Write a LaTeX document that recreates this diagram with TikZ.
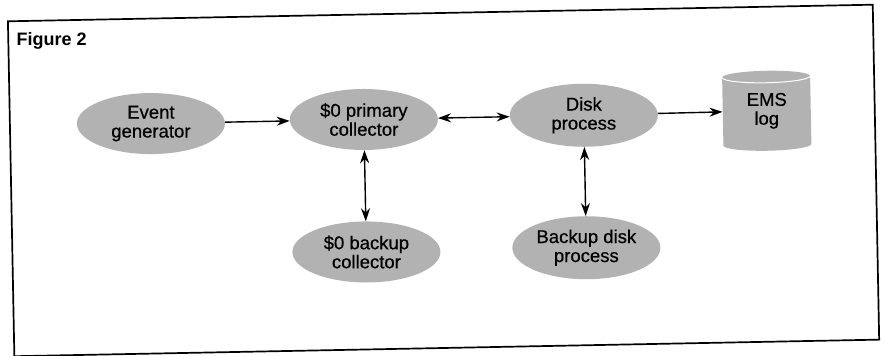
\documentclass[tikz,border=0pt]{standalone}
\usepackage{fontspec}
\setmainfont{Liberation Sans}
\usetikzlibrary{arrows.meta,shapes.geometric}
\begin{document}
\begin{tikzpicture}[x=1pt,y=1pt,
  lbl/.style={font=\fontsize{18.5}{19}\selectfont\addfontfeature{FakeBold=0.6}},
  proc/.style={ellipse, fill=black!30, minimum width=148pt, minimum height=61pt, inner sep=0pt, align=center, lbl},
  conn/.style={line width=1.4pt, -{Stealth[length=13pt,width=9pt]}},
  bconn/.style={line width=1.4pt, {Stealth[length=13pt,width=9pt]}-{Stealth[length=13pt,width=9pt]}}]
\useasboundingbox (0,0) rectangle (884,356);
\begin{scope}[rotate around={1.1:(442,178)}]
\draw[line width=1.7pt] (11,8) rectangle (876,343);
\node[anchor=west, inner sep=0pt, font=\bfseries\fontsize{18}{20}\selectfont] (title) at (19,323) {Figure 2};
\node[proc] (ev) at (152,238) {Event\\generator};
\node[proc] (pc) at (365,238) {\$0 primary\\collector};
\node[proc, minimum height=63pt] (dp) at (585,238) {Disk\\process};
\node[proc] (bc) at (365,105.5) {\$0 backup\\collector};
\node[proc, minimum height=63pt] (bd) at (585,105.5) {Backup disk\\process};
\fill[black!30] (724,273) -- (724,205) arc[start angle=180, end angle=360, x radius=44, y radius=6] -- (812,273) arc[start angle=0, end angle=180, x radius=44, y radius=6] -- cycle;
\draw[white, line width=1pt] (724,273) arc[start angle=180, end angle=360, x radius=44, y radius=6];
\node[align=center, inner sep=0pt, minimum width=88pt, minimum height=80pt, lbl] (ems) at (768,239) {EMS\\log};
\draw[conn] (ev) -- (pc);
\draw[bconn] (pc) -- (dp);
\draw[conn] (dp) -- (ems);
\draw[bconn] (pc) -- (bc);
\draw[bconn] (dp) -- (bd);
\end{scope}
\end{tikzpicture}
\end{document}
